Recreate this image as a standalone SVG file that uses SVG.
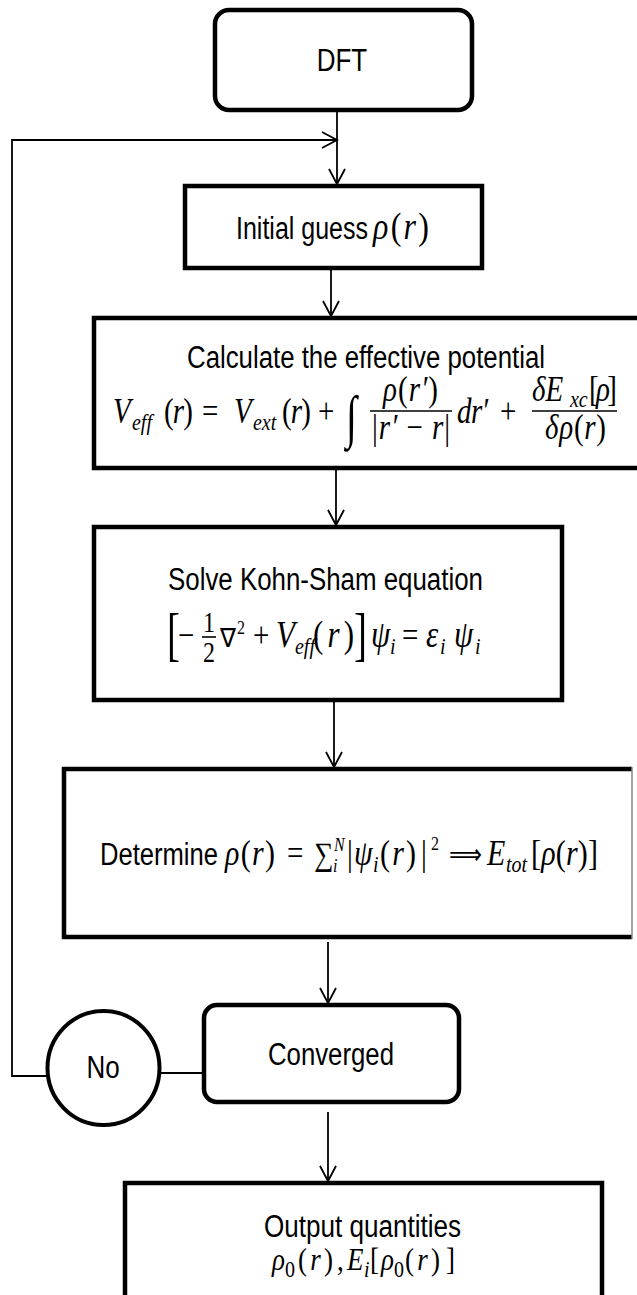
<svg xmlns="http://www.w3.org/2000/svg" width="637" height="1295" viewBox="0 0 637 1295">
<defs>
<style>
.box{fill:#fff;stroke:#000;stroke-width:4.5}
.c{fill:none;stroke:#000;stroke-width:1.8}
.t{font-family:"Liberation Sans",Arial,sans-serif;font-size:26px;fill:#000}
.m{font-family:"Liberation Serif","Times New Roman",serif;font-style:italic;font-size:29px;fill:#000}
.u{font-family:"Liberation Serif","Times New Roman",serif;font-style:normal;fill:#000}
.d{font-family:"DejaVu Sans",sans-serif;font-style:normal;fill:#000}
.L{font-size:29px}
.S{font-size:20px}
.X{font-size:16px}
.bar{stroke:#000;stroke-width:1.6}
</style>
<marker id="ah" markerUnits="userSpaceOnUse" markerWidth="20" markerHeight="20" viewBox="0 0 20 20" refX="17" refY="10" orient="auto">
<path d="M2,2 L17,10 L2,18" fill="none" stroke="#000" stroke-width="1.8"/>
</marker>
</defs>
<rect width="637" height="1295" fill="#fff"/>

<g id="connectors">
<line class="c" x1="337" y1="110" x2="337" y2="184" marker-end="url(#ah)"/>
<polyline class="c" points="47,1076 12,1076 12,140 337,140" stroke-width="1.5" marker-end="url(#ah)"/>
<line class="c" x1="160" y1="1073" x2="204" y2="1073" stroke-width="1.5"/>
<line class="c" x1="331" y1="268" x2="331" y2="316" marker-end="url(#ah)"/>
<line class="c" x1="336" y1="468" x2="336" y2="525" marker-end="url(#ah)"/>
<line class="c" x1="334" y1="700" x2="334" y2="767" marker-end="url(#ah)"/>
<line class="c" x1="328" y1="942" x2="328" y2="1003" marker-end="url(#ah)"/>
<line class="c" x1="328" y1="1112" x2="328" y2="1181" marker-end="url(#ah)"/>
</g>

<g id="dft">
<rect class="box" x="215" y="10" width="257" height="100" rx="14"/>
<text class="t" x="342" y="71" text-anchor="middle" transform="matrix(1 0 0 1.2 0 -14.2)">DFT</text>
</g>

<g id="initial">
<rect class="box" x="185" y="186" width="297" height="82"/>
<g transform="matrix(1 0 0 1.2 0 -47.8)">
<text class="t" x="236" y="239" textLength="132" lengthAdjust="spacingAndGlyphs">Initial guess</text>
<text class="m" x="373" y="239" style="font-size:32px" textLength="56">ρ<tspan class="u">(</tspan>r<tspan class="u">)</tspan></text>
</g>
</g>

<g id="effective">
<path class="box" d="M645,318 H94 V468 H645"/>
<text class="t" x="187" y="368" textLength="358" lengthAdjust="spacingAndGlyphs" transform="matrix(1 0 0 1.2 0 -73.6)">Calculate the effective potential</text>
<g transform="matrix(1 0 0 1.2 0 -84.6)">
<text class="m" x="113" y="423">V</text>
<text class="m S" x="132" y="428.8">eff</text>
<text class="m" x="164" y="423" textLength="29"><tspan class="u">(</tspan>r<tspan class="u">)</tspan></text>
<text class="u L" x="202" y="423">=</text>
<text class="m" x="234" y="423">V</text>
<text class="m S" x="253" y="428.8">ext</text>
<text class="m" x="282" y="423" textLength="29"><tspan class="u">(</tspan>r<tspan class="u">)</tspan></text>
<text class="u L" x="318" y="423">+</text>
<text class="m" x="383" y="404.5" textLength="55">ρ<tspan class="u">(</tspan>r′<tspan class="u">)</tspan></text>
<text class="m" x="372" y="436" textLength="78"><tspan class="u">|</tspan>r′ <tspan class="u">−</tspan> r<tspan class="u">|</tspan></text>
<text class="m" x="457" y="423" textLength="31">dr′</text>
<text class="u L" x="500" y="423">+</text>
<text class="m" x="532" y="404.5">δE</text>
<text class="m S" x="570" y="409.5">xc</text>
<text class="m" x="589" y="404.5" textLength="28"><tspan class="u">[</tspan>ρ<tspan class="u">]</tspan></text>
<text class="m" x="545" y="436" textLength="61">δρ<tspan class="u">(</tspan>r<tspan class="u">)</tspan></text>
</g>
<text class="u" x="346" y="436" style="font-size:40px;font-style:italic" transform="matrix(1 0 0 1.45 0 -196.2)">∫</text>
<line class="bar" x1="370" y1="411" x2="452" y2="411"/>
<line class="bar" x1="532" y1="411" x2="617" y2="411"/>
</g>

<g id="kohn-sham">
<rect class="box" x="94" y="527" width="468" height="173"/>
<text class="t" x="168" y="590" textLength="315" lengthAdjust="spacingAndGlyphs" transform="matrix(1 0 0 1.2 0 -118)">Solve Kohn-Sham equation</text>
<text class="u" x="167" y="654" style="font-size:60px" transform="matrix(0.65 0 0 1 58.45 0)">[</text>
<text class="u" x="354" y="654" style="font-size:60px" transform="matrix(0.65 0 0 1 123.9 0)">]</text>
<line class="bar" x1="202" y1="637" x2="216" y2="637"/>
<g transform="matrix(1 0 0 1.2 0 -129.4)">
<text class="u L" x="178" y="647" textLength="12">−</text>
<text class="u" x="209" y="634.5" style="font-size:24px" text-anchor="middle">1</text>
<text class="u" x="209" y="659.5" style="font-size:24px" text-anchor="middle">2</text>
<text class="d" x="220" y="647" style="font-size:22px" textLength="16" lengthAdjust="spacingAndGlyphs">∇</text>
<text class="u X" x="237" y="636.2">2</text>
<text class="u L" x="253" y="647">+</text>
<text class="m" x="276" y="647" style="font-size:31px">V</text>
<text class="m S" x="295" y="652.8">eff</text>
<text class="m" x="313" y="647" style="font-size:31px" textLength="41"><tspan class="u">(</tspan>r<tspan class="u">)</tspan></text>
<text class="m" x="371" y="647" style="font-size:31px">ψ</text>
<text class="m S" x="390" y="652.8">i</text>
<text class="u L" x="402" y="647">=</text>
<text class="m" x="426" y="647" style="font-size:31px">ε</text>
<text class="m S" x="440" y="652.8">i</text>
<text class="m" x="454" y="647" style="font-size:31px">ψ</text>
<text class="m S" x="475" y="652.8">i</text>
</g>
</g>

<g id="determine">
<path class="box" d="M632,769 H64 V937 H632"/>
<line x1="632" y1="767" x2="632" y2="939" stroke="#888" stroke-width="1.5"/>
<g transform="matrix(1 0 0 1.2 0 -173)">
<text class="t" x="100" y="865" textLength="118" lengthAdjust="spacingAndGlyphs">Determine</text>
<text class="m" x="225" y="865" style="font-size:30px" textLength="50">ρ<tspan class="u">(</tspan>r<tspan class="u">)</tspan></text>
<text class="u L" x="287" y="865">=</text>
<text class="u" x="314" y="865" style="font-size:27px">∑</text>
<text class="m X" x="334" y="853.3">N</text>
<text class="m X" x="333" y="870.8">i</text>
<text class="u L" x="347" y="865">|</text>
<text class="m" x="354" y="865" style="font-size:30px">ψ</text>
<text class="m S" x="373" y="870.8">i</text>
<text class="m" x="380" y="865" style="font-size:30px" textLength="36"><tspan class="u">(</tspan>r<tspan class="u">)</tspan></text>
<text class="u L" x="421" y="865">|</text>
<text class="u X" x="431" y="852.5">2</text>
<text class="d" x="449" y="864" style="font-size:24px" textLength="33" lengthAdjust="spacingAndGlyphs">⟹</text>
<text class="m" x="487" y="865" style="font-size:30px">E</text>
<text class="m S" x="506" y="870.8" textLength="21">tot</text>
<text class="m" x="531" y="865" style="font-size:30px" textLength="67"><tspan class="u">[</tspan>ρ<tspan class="u">(</tspan>r<tspan class="u">)]</tspan></text>
</g>
</g>

<g id="converged">
<rect class="box" x="204" y="1005" width="255" height="97" rx="13"/>
<text class="t" x="268" y="1065" textLength="126" lengthAdjust="spacingAndGlyphs" transform="matrix(1 0 0 1.2 0 -213)">Converged</text>
</g>

<g id="no">
<ellipse cx="103.5" cy="1068" rx="56" ry="57" fill="#fff" stroke="#000" stroke-width="4"/>
<text class="t" x="103" y="1078" text-anchor="middle" transform="matrix(1 0 0 1.2 0 -215.6)">No</text>
</g>

<g id="output">
<rect class="box" x="125" y="1183" width="477" height="116"/>
<text class="t" x="264" y="1237" textLength="197" lengthAdjust="spacingAndGlyphs" transform="matrix(1 0 0 1.2 0 -247.4)">Output quantities</text>
<g transform="matrix(1 0 0 1.2 0 -254)">
<text class="m" x="272" y="1270" style="font-size:27px">ρ</text>
<text class="u S" x="285" y="1275.8">0</text>
<text class="m" x="298" y="1270" style="font-size:27px" textLength="35"><tspan class="u">(</tspan>r<tspan class="u">)</tspan></text>
<text class="u" x="337" y="1270" style="font-size:27px">,</text>
<text class="m" x="347" y="1270" style="font-size:27px">E</text>
<text class="m S" x="364" y="1275.8">i</text>
<text class="u" x="370" y="1270" style="font-size:27px">[</text>
<text class="m" x="381" y="1270" style="font-size:27px">ρ</text>
<text class="u S" x="394" y="1275.8">0</text>
<text class="m" x="405" y="1270" style="font-size:27px" textLength="35"><tspan class="u">(</tspan>r<tspan class="u">)</tspan></text>
<text class="u" x="446" y="1270" style="font-size:27px">]</text>
</g>
</g>
</svg>
